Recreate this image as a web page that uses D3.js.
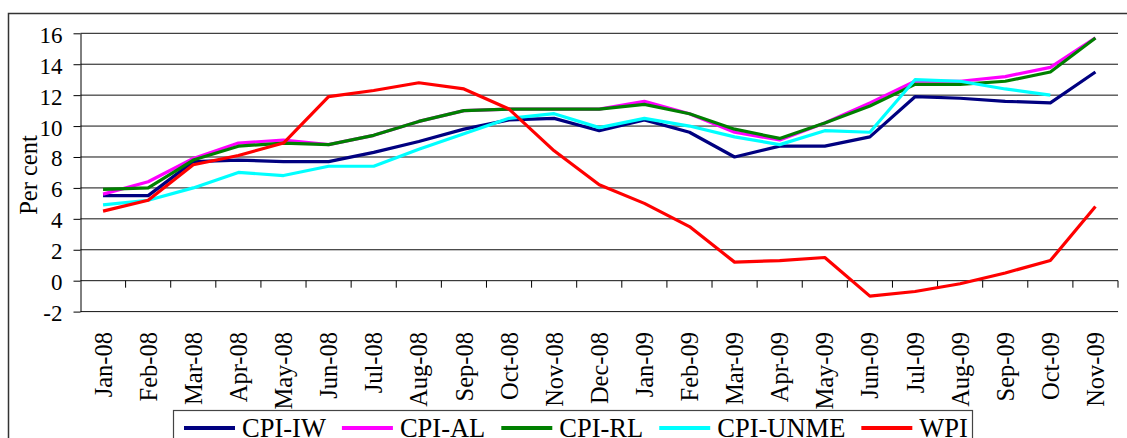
<!DOCTYPE html>
<html>
<head>
    <meta charset="utf-8">
    <title></title>
    <script src='https://d3js.org/d3.v7.min.js'></script>
    <style>
      body {margin:0; background:#fff;}
      svg text {font-family:"Liberation Serif","Times New Roman",serif; fill:#000;}
    </style>
</head>
<body onload='init()'>
<svg width=1127 height=438>
</svg>
<script>
// chart data
var months = ["Jan-08","Feb-08","Mar-08","Apr-08","May-08","Jun-08","Jul-08","Aug-08","Sep-08","Oct-08","Nov-08","Dec-08",
              "Jan-09","Feb-09","Mar-09","Apr-09","May-09","Jun-09","Jul-09","Aug-09","Sep-09","Oct-09","Nov-09"];
var cpiIW   = [5.5,5.5,7.7,7.8,7.7,7.7,8.3,9.0,9.8,10.4,10.5,9.7,10.4,9.6,8.0,8.7,8.7,9.3,11.9,11.8,11.6,11.5,13.5];
var cpiAL   = [5.6,6.4,7.9,8.9,9.1,8.8,9.4,10.3,11.0,11.1,11.1,11.1,11.6,10.8,9.6,9.1,10.2,11.5,12.9,12.9,13.2,13.8,15.7];
var cpiRL   = [5.9,6.0,7.8,8.7,8.9,8.8,9.4,10.3,11.0,11.1,11.1,11.1,11.4,10.8,9.8,9.2,10.2,11.3,12.7,12.7,12.9,13.5,15.7];
var cpiUNME = [4.9,5.2,6.0,7.0,6.8,7.4,7.4,8.5,9.5,10.5,10.8,9.9,10.5,10.0,9.3,8.8,9.7,9.6,13.0,12.9,12.4,12.0,null];
var wpi     = [4.5,5.2,7.5,8.1,8.9,11.9,12.3,12.8,12.4,11.1,8.4,6.2,5.0,3.5,1.2,1.3,1.5,-1.0,-0.7,-0.2,0.5,1.3,4.8];
var seriesNames = ["CPI-IW","CPI-AL","CPI-RL","CPI-UNME","WPI"];
var yTicks = [-2,0,2,4,6,8,10,12,14,16];

function init() {
var svg = d3.select("svg");
var serif = "'Liberation Serif','Times New Roman',serif";
var left = 80.5, right = 1118, top = 33.3, bottom = 311.6;
var x = d3.scaleBand().domain(months).range([left,right]).padding(0);
var y = d3.scaleLinear().domain([-2,16]).range([bottom,top]);
var color = d3.scaleOrdinal().domain(seriesNames).range(["#000080","#ff00ff","#008000","#00ffff","#ff0000"]);
var series = [cpiIW,cpiAL,cpiRL,cpiUNME,wpi];

//outer frame
svg.append("rect").attr("x",8.5).attr("y",13.5).attr("width",1200).attr("height",500)
  .attr("fill","none").attr("stroke","#333").attr("stroke-width",1.5);

//gridlines
svg.append("g").selectAll("line").data(yTicks).enter().append("line")
  .attr("x1",left).attr("x2",right)
  .attr("y1",function(d){return y(d);}).attr("y2",function(d){return y(d);})
  .attr("stroke","#111").attr("stroke-width",1);

//y axis
var yAxis = svg.append("g").attr("transform","translate("+left+",0)")
  .call(d3.axisLeft(y).tickValues(yTicks).tickSize(7).tickSizeOuter(0).tickFormat(function(d){return String(d);}));
yAxis.attr("font-family",serif).attr("font-size",23);
yAxis.select(".domain").attr("stroke","#000");
yAxis.selectAll(".tick line").attr("stroke","#000");
yAxis.selectAll(".tick text").attr("x",-18).attr("dy","0.39em")
  .attr("font-family",serif).attr("font-size",23).attr("fill","#000");

//x axis ticks on the zero line, at category boundaries
var bounds = months.map(function(m){return x(m);}).concat([right]);
svg.append("g").selectAll("line").data(bounds.slice(1)).enter().append("line")
  .attr("x1",function(d){return d;}).attr("x2",function(d){return d;})
  .attr("y1",y(0)).attr("y2",y(0)+7).attr("stroke","#000");

//x labels
svg.append("g").selectAll("text").data(months).enter().append("text")
  .attr("transform",function(d){return "translate("+(x(d)+x.bandwidth()/2)+",332) rotate(-90)";})
  .attr("dy","0.35em").style("text-anchor","end").attr("font-family",serif).style("font-size","24.5px")
  .text(function(d){return d;});

//y label
svg.append("text").attr("transform","translate(37,175) rotate(-90)").attr("font-family",serif)
  .style("text-anchor","middle").style("font-size","24.5px").text("Per cent");

//lines
var line = d3.line()
  .defined(function(d){return d != null;})
  .x(function(d,i){return x(months[i])+x.bandwidth()/2;})
  .y(function(d){return y(d);});
svg.append("g").selectAll("path").data(series).enter().append("path")
  .attr("d",line).attr("fill","none")
  .attr("stroke",function(d,i){return color(seriesNames[i]);})
  .attr("stroke-width",3.2).attr("stroke-linejoin","round");

//legend
var legend = svg.append("g");
legend.append("rect").attr("x",173.5).attr("y",410.5).attr("width",799).attr("height",60)
  .attr("fill","#fff").attr("stroke","#444").attr("stroke-width",1.2);
var lx = 184;
seriesNames.forEach(function(n){
  legend.append("line").attr("x1",lx).attr("x2",lx+51).attr("y1",428).attr("y2",428)
    .attr("stroke",color(n)).attr("stroke-width",4);
  var t = legend.append("text").attr("x",lx+58).attr("y",437).attr("font-family",serif)
    .style("font-size","26.5px").text(n);
  lx += 58 + t.node().getComputedTextLength() + 16;
});
}
</script>
</body>
</html>
